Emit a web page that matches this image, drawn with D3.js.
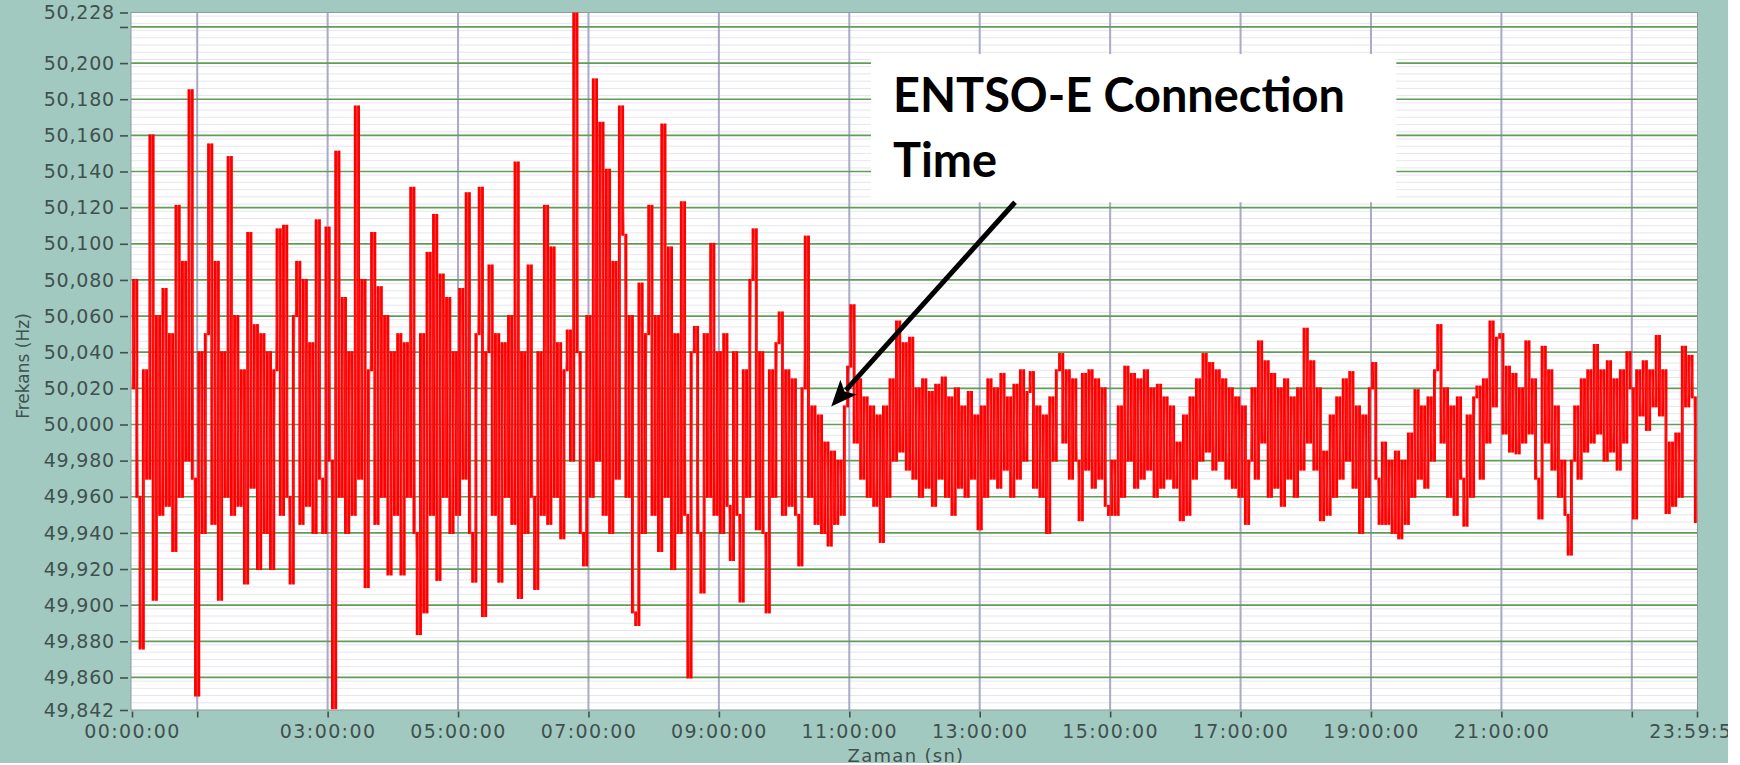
<!DOCTYPE html>
<html><head><meta charset="utf-8">
<script src="https://cdn.jsdelivr.net/npm/d3@7"></script>
<style>
html,body{margin:0;padding:0;background:#fff;}
svg{display:block;}
</style></head><body>
<svg id="c" width="1740" height="765"></svg>
<script>
// Frequency samples (Hz), one every 3 minutes (extremes of the 1 s record)
const freqHz = [
50.020,50.080,49.960,49.876,50.030,49.970,50.160,49.903,50.060,49.950,50.075,49.955,50.050,49.930,50.121,49.960,50.090,49.980,50.185,49.970,
49.850,50.040,49.940,50.050,50.155,49.945,50.090,49.903,50.040,49.960,50.148,49.950,50.060,49.955,50.030,49.912,50.106,49.965,50.055,49.920,
50.050,49.940,50.040,49.920,50.030,50.108,49.950,50.110,49.960,49.912,50.060,50.090,49.945,50.080,49.955,50.045,49.940,50.113,49.970,49.940,
50.109,49.980,49.843,50.151,49.960,50.070,49.940,50.040,49.950,50.176,49.970,50.080,49.910,50.030,50.106,49.945,50.076,49.960,50.060,49.917,
50.040,49.950,50.050,49.917,50.045,49.960,50.131,49.940,49.884,50.050,49.896,50.095,49.950,50.116,49.914,50.083,49.960,50.070,49.940,50.040,
49.950,50.075,49.970,50.128,49.940,49.913,50.050,50.131,49.894,50.040,50.088,49.950,50.050,49.913,50.045,49.960,50.060,49.945,50.145,49.904,
50.040,49.940,50.088,49.960,49.909,50.040,49.950,50.121,49.945,50.098,49.960,50.045,49.937,50.030,50.052,49.980,50.228,50.040,49.940,49.922,
50.060,49.960,50.191,49.980,50.167,49.950,50.141,49.940,50.090,49.970,50.176,50.105,49.960,50.060,49.896,49.889,50.078,49.940,50.050,50.121,
49.950,50.060,49.930,50.166,49.960,50.098,49.920,50.050,49.940,50.123,49.950,49.860,50.040,50.054,49.940,49.907,50.050,49.960,50.100,49.950,
50.040,49.940,50.050,49.955,49.925,50.040,49.950,49.902,50.030,49.960,50.080,50.108,49.942,50.040,49.940,49.896,50.030,49.960,50.045,50.062,
49.950,50.030,49.955,50.025,49.950,49.922,50.020,50.104,49.960,50.010,49.945,50.005,49.940,49.990,49.933,49.985,49.945,49.980,49.950,50.010,
50.032,50.066,49.990,50.025,49.970,50.015,49.960,50.010,49.955,50.005,49.935,50.010,49.960,50.025,49.980,50.057,49.985,50.045,49.975,50.048,
49.970,50.020,49.960,50.025,49.965,50.018,49.955,50.022,49.970,50.026,49.960,50.015,49.950,50.020,49.965,50.010,49.960,50.018,49.970,50.005,
49.942,50.010,49.960,50.025,49.970,50.020,49.965,50.028,49.975,50.015,49.960,50.022,49.970,50.030,49.980,50.018,50.029,49.965,50.010,49.960,
50.005,49.940,50.015,49.980,50.030,50.039,49.990,50.030,49.970,50.025,49.980,49.947,50.028,49.975,50.030,49.965,50.025,49.970,50.020,49.955,
49.950,49.980,49.950,50.010,49.960,50.032,49.980,50.028,49.965,50.025,49.970,50.030,49.975,50.020,49.960,50.022,49.965,50.015,49.970,50.010,
49.965,49.990,49.947,50.005,49.950,50.015,49.970,50.025,49.980,50.039,49.985,50.034,49.975,50.030,49.980,50.025,49.970,50.020,49.965,50.015,
49.960,50.010,49.945,49.980,50.020,49.970,50.046,49.990,50.035,49.960,50.028,49.965,50.020,49.955,50.025,49.970,50.015,49.960,50.020,49.975,
50.053,49.990,50.035,49.975,50.020,49.947,49.985,49.950,50.005,49.960,50.015,49.970,50.025,49.980,50.029,49.965,50.010,49.940,50.005,49.960,
50.020,50.034,49.970,49.945,49.990,49.945,49.980,49.940,49.985,49.937,49.980,49.945,49.995,49.960,50.019,49.970,50.010,49.965,50.015,49.980,
50.030,50.055,49.990,50.020,49.960,50.010,49.950,50.015,49.970,49.944,50.005,49.960,50.015,50.021,49.970,50.025,49.990,50.057,50.010,50.048,
50.050,49.995,50.032,49.985,50.028,49.984,50.020,49.990,50.046,49.995,50.025,49.970,49.948,50.043,49.990,50.030,49.975,50.010,49.960,49.980,
49.950,49.928,49.980,50.010,49.970,50.025,49.985,50.030,49.990,50.044,49.995,50.030,49.980,50.035,49.985,50.025,49.975,50.030,49.990,50.040,
50.020,49.948,50.030,50.005,50.035,49.997,50.030,50.010,50.049,50.005,50.030,49.951,49.990,49.955,49.995,49.960,50.043,50.010,50.038,50.015,49.946
];
const sampleStepSec = 180;
const dayEndSec = 86399;

const yTickValues = [50.228,50.220,50.200,50.180,50.160,50.140,50.120,50.100,50.080,50.060,50.040,50.020,50.000,49.980,49.960,49.940,49.920,49.900,49.880,49.860,49.842];
const yTickLabels = ["50,228","","50,200","50,180","50,160","50,140","50,120","50,100","50,080","50,060","50,040","50,020","50,000","49,980","49,960","49,940","49,920","49,900","49,880","49,860","49,842"];
const yMajorGrid = [50.220,50.200,50.180,50.160,50.140,50.120,50.100,50.080,50.060,50.040,50.020,50.000,49.980,49.960,49.940,49.920,49.900,49.880,49.860];
const xTickSeconds = [0,3600,10800,18000,25200,32400,39600,46800,54000,61200,68400,75600,82800,86399];
const xTickLabels = ["00:00:00","","03:00:00","05:00:00","07:00:00","09:00:00","11:00:00","13:00:00","15:00:00","17:00:00","19:00:00","21:00:00","","23:59:59"];
const xGridSeconds = [3600,10800,18000,25200,32400,39600,46800,54000,61200,68400,75600,82800];

const yTitle = "Frekans (Hz)";
const xTitle = "Zaman (sn)";
const noteLines = ["ENTSO-E Connection","Time"];
// annotation anchors in data space (seconds, Hz)
const noteBox = {t0: 40800, t1: 69800, f0: 50.205, f1: 50.123};
const arrowTail = {t: 48750, f: 50.123};
const arrowTip = {t: 38600, f: 50.010};

const W = 1740, H = 765;
const plot = {l: 131, r: 1697.5, t: 12.5, b: 710};
const teal = "#a2c9c0", ink = "#3f514e";
const tickFont = "DejaVu Sans, Verdana, sans-serif";

const svg = d3.select("#c");
svg.append("rect").attr("width", W).attr("height", H).attr("fill", teal);

const x = d3.scaleLinear().domain([0, dayEndSec]).range([132, 1697]);
const y = d3.scaleLinear().domain([49.842, 50.228]).range([plot.b, plot.t]);

svg.append("rect").attr("x", plot.l).attr("y", plot.t).attr("width", plot.r - plot.l).attr("height", plot.b - plot.t).attr("fill", "#fff");

// minor gridlines every 4 mHz
const minor = d3.range(49846, 50228, 4).map(v => v / 1000);
svg.append("g").selectAll("line").data(minor).join("line")
  .attr("x1", plot.l).attr("x2", plot.r).attr("y1", d => y(d)).attr("y2", d => y(d))
  .attr("stroke", "#e6e6ee").attr("stroke-width", 1);

// vertical gridlines
svg.append("g").selectAll("line").data(xGridSeconds).join("line")
  .attr("x1", d => x(d)).attr("x2", d => x(d)).attr("y1", plot.t).attr("y2", plot.b)
  .attr("stroke", "#a9a9c8").attr("stroke-width", 2);

// major gridlines
svg.append("g").selectAll("line").data(yMajorGrid).join("line")
  .attr("x1", plot.l).attr("x2", plot.r).attr("y1", d => y(d)).attr("y2", d => y(d))
  .attr("stroke", "#5f9e57").attr("stroke-width", 1.7);

// plot border
svg.append("rect").attr("x", plot.l).attr("y", plot.t).attr("width", plot.r - plot.l).attr("height", plot.b - plot.t)
  .attr("fill", "none").attr("stroke", "#8e9c9a").attr("stroke-width", 1);

// data: each 3-minute interval drawn as the vertical span the 1 s trace sweeps between samples
svg.append("clipPath").attr("id", "pc").append("rect")
  .attr("x", plot.l).attr("y", plot.t).attr("width", plot.r - plot.l).attr("height", plot.b - plot.t);
const tOf = i => Math.min(i * sampleStepSec, dayEndSec);
const spans = d3.pairs(freqHz).map(([a, b], i) => ({t0: tOf(i), t1: tOf(i + 1), lo: Math.min(a, b), hi: Math.max(a, b)}));
const gData = svg.append("g").attr("clip-path", "url(#pc)");
gData.selectAll("rect").data(spans).join("rect")
  .attr("x", d => x(d.t0) + 0.1)
  .attr("width", d => Math.max(0, (x(d.t1) - x(d.t0)) * 0.9))
  .attr("y", d => y(d.hi) - 1)
  .attr("height", d => y(d.lo) - y(d.hi) + 2)
  .attr("fill", "#ff0000");
const line = d3.line().x((d, i) => x(tOf(i))).y(d => y(d));
gData.append("path").datum(freqHz).attr("d", line).attr("fill", "none")
  .attr("stroke", "#ff2a2a").attr("stroke-width", 1).attr("stroke-opacity", 0.6);

// axes
const yAxis = svg.append("g").attr("transform", "translate(128,0)")
  .call(d3.axisLeft(y).tickValues(yTickValues).tickFormat((d, i) => yTickLabels[i]).tickSize(8).tickPadding(5));
const xAxis = svg.append("g").attr("transform", `translate(0,${plot.b + 1.5})`)
  .call(d3.axisBottom(x).tickValues(xTickSeconds).tickFormat((d, i) => xTickLabels[i]).tickSize(6).tickPadding(7));
[yAxis, xAxis].forEach(g => {
  g.select(".domain").remove();
  g.selectAll(".tick line").attr("stroke", ink).attr("stroke-width", 1.6);
  g.selectAll(".tick text").attr("fill", ink).style("font-family", tickFont).style("font-size", "19px");
});
yAxis.selectAll(".tick text").style("letter-spacing", "0.8px");
xAxis.selectAll(".tick text").style("letter-spacing", "1.4px");

// titles
svg.append("text").attr("transform", "translate(29,366) rotate(-90)").attr("text-anchor", "middle")
  .attr("fill", ink).style("font-family", tickFont).style("font-size", "17px").text(yTitle);
svg.append("text").attr("x", 906).attr("y", 762).attr("text-anchor", "middle")
  .attr("fill", ink).style("font-family", tickFont).style("font-size", "18px").style("letter-spacing", "1.3px").text(xTitle);

// annotation box
const bx0 = x(noteBox.t0), bx1 = x(noteBox.t1), by0 = y(noteBox.f0), by1 = y(noteBox.f1);
svg.append("rect").attr("x", bx0).attr("y", by0).attr("width", bx1 - bx0).attr("height", by1 - by0).attr("fill", "#fff");
const t1 = svg.append("text").attr("x", bx0 + 22).attr("y", by0 + 58).attr("fill", "#000")
  .style("font-family", "Lato, 'Open Sans', sans-serif").style("font-weight", "700").style("font-size", "45px").text(noteLines[0]);
const len = t1.node().getComputedTextLength();
const fs = 45 * 452 / len;
t1.style("font-size", fs + "px");
svg.append("text").attr("x", bx0 + 22).attr("y", by0 + 123).attr("fill", "#000")
  .style("font-family", "Lato, 'Open Sans', sans-serif").style("font-weight", "700").style("font-size", fs + "px").text(noteLines[1]);

// arrow
const ax0 = x(arrowTail.t), ay0 = y(arrowTail.f), ax1 = x(arrowTip.t), ay1 = y(arrowTip.f);
const dx = ax1 - ax0, dy = ay1 - ay0, L = Math.hypot(dx, dy), ux = dx / L, uy = dy / L;
const headLen = 26, headHalf = 11;
const bxh = ax1 - ux * headLen, byh = ay1 - uy * headLen;
svg.append("line").attr("x1", ax0).attr("y1", ay0).attr("x2", bxh + ux * 4).attr("y2", byh + uy * 4)
  .attr("stroke", "#000").attr("stroke-width", 5);
svg.append("path").attr("d", `M${ax1},${ay1}L${bxh - uy * headHalf},${byh + ux * headHalf}L${bxh + ux * 6},${byh + uy * 6}L${bxh + uy * headHalf},${byh - ux * headHalf}Z`)
  .attr("fill", "#000");

// outer white margins
svg.append("rect").attr("x", 1728).attr("y", 0).attr("width", W - 1728).attr("height", H).attr("fill", "#fff");
svg.append("rect").attr("x", 0).attr("y", 763).attr("width", W).attr("height", H - 763).attr("fill", "#fff");
</script>
</body></html>
